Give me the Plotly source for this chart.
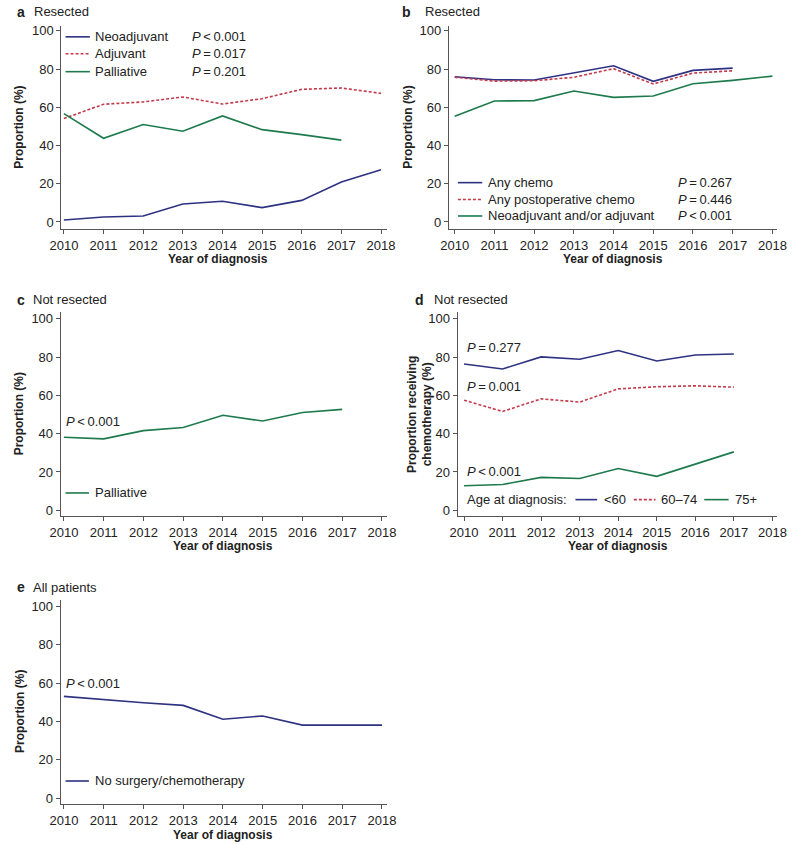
import plotly.graph_objects as go

# ---------------- data ----------------
years = [2010, 2011, 2012, 2013, 2014, 2015, 2016, 2017, 2018]
year_labels = [str(y) for y in years]
y_ticks = [0, 20, 40, 60, 80, 100]

# Panel a (resected)
a_neoadjuvant = [1.0, 2.6, 3.1, 9.4, 10.8, 7.5, 11.3, 20.9, 27.3]
a_adjuvant = [54.1, 61.6, 62.8, 65.4, 61.7, 64.5, 69.4, 70.1, 67.3]
a_palliative = [56.7, 43.8, 51.0, 47.5, 55.5, 48.3, 45.7, 42.8, None]

# Panel b (resected)
b_any_chemo = [76.0, 74.4, 74.3, 78.1, 81.7, 73.6, 79.3, 80.5, None]
b_postop = [75.7, 73.7, 73.9, 75.7, 80.2, 72.2, 77.9, 79.1, None]
b_neo_adj = [55.3, 63.3, 63.5, 68.5, 65.2, 65.9, 72.3, 74.1, 76.3]

# Panel c (not resected)
c_palliative = [38.1, 37.3, 41.6, 43.2, 49.6, 46.6, 51.1, 52.7, None]

# Panel d (not resected, by age)
d_lt60 = [76.4, 73.8, 80.1, 78.9, 83.4, 78.0, 81.1, 81.6, None]
d_60_74 = [57.5, 51.6, 58.2, 56.5, 63.4, 64.5, 65.0, 64.3, None]
d_75p = [12.8, 13.5, 17.2, 16.6, 21.8, 17.7, 24.1, 30.5, None]

# Panel e (all patients)
e_none = [53.1, 51.4, 49.8, 48.4, 41.2, 42.9, 38.1, 38.1, 38.1]

# ---------------- style ----------------
W, H = 796, 845
FONT = "Liberation Sans, Arial, Helvetica, sans-serif"
NAVY = "#2e3282"
RED = "#c43a4b"
GREEN = "#1d7a4c"
AXC = "#555555"
TXT = "#222222"
DASH = "3px,2px"


def fx(x):
    return x / W


def fy(y):
    return 1 - y / H


# panel geometry in pixels: left, right, top, bottom, px(2010), px(2018), py(0), py(100)
panels = {
    "a": (50.7, 385, 24, 228, 53.3, 379, 221, 29),
    "b": (448.7, 786, 24, 228, 454.7, 781, 221, 29),
    "c": (50, 385, 311.7, 516.7, 53.3, 380, 510.7, 318.3),
    "d": (457.7, 786, 311.7, 516.7, 464.3, 781, 510.7, 318.3),
    "e": (50, 385, 600.7, 806, 53.3, 380, 800, 607.3),
}
order = ["a", "b", "c", "d", "e"]

fig = go.Figure()
layout = dict(
    width=W, height=H, margin=dict(l=0, r=0, t=0, b=0),
    paper_bgcolor="white", plot_bgcolor="white", showlegend=False,
    font=dict(family=FONT, size=13, color=TXT),
)

for i, key in enumerate(order):
    L, R, T, B, p10, p18, p0, p100 = panels[key]
    perx = (p18 - p10) / 8
    xmin = 2010 - (p10 - L) / perx
    xmax = 2018 + (R - p18) / perx
    pery = (p0 - p100) / 100
    ymin = -(B - p0) / pery
    ymax = 100 + (p100 - T) / pery
    sfx = "" if i == 0 else str(i + 1)
    layout["xaxis" + sfx] = dict(
        domain=[fx(L), fx(R)], range=[xmin, xmax], anchor="y" + sfx,
        tickvals=years, ticktext=year_labels, showline=True, linecolor=AXC,
        linewidth=1, ticks="outside", ticklen=4, tickcolor=AXC, showgrid=False,
        zeroline=False, tickfont=dict(size=13, family=FONT, color=TXT), fixedrange=True,
    )
    layout["yaxis" + sfx] = dict(
        domain=[fy(B), fy(T)], range=[ymin, ymax], anchor="x" + sfx,
        tickvals=y_ticks, showline=True, linecolor=AXC, linewidth=1,
        ticks="outside", ticklen=4, tickcolor=AXC, showgrid=False, zeroline=False,
        tickfont=dict(size=13, family=FONT, color=TXT), fixedrange=True,
    )

fig.update_layout(**layout)


def add_line(vals, color, ax, dash=None):
    fig.add_trace(go.Scatter(
        x=years, y=vals, mode="lines", xaxis="x" + ax, yaxis="y" + ax,
        line=dict(color=color, width=1.6, dash=dash), connectgaps=False,
        hoverinfo="skip",
    ))


add_line(a_neoadjuvant, NAVY, "")
add_line(a_adjuvant, RED, "", DASH)
add_line(a_palliative, GREEN, "")

add_line(b_any_chemo, NAVY, "2")
add_line(b_postop, RED, "2", DASH)
add_line(b_neo_adj, GREEN, "2")

add_line(c_palliative, GREEN, "3")

add_line(d_lt60, NAVY, "4")
add_line(d_60_74, RED, "4", DASH)
add_line(d_75p, GREEN, "4")

add_line(e_none, NAVY, "5")

annotations = []
shapes = []


def text(x, y, s, size=13, bold=False, anchor="left", angle=0):
    if bold:
        s = "<b>" + s + "</b>"
    annotations.append(dict(
        x=fx(x), y=fy(y), xref="paper", yref="paper", text=s, showarrow=False,
        xanchor=anchor, yanchor="middle", textangle=angle,
        font=dict(size=size, family=FONT, color=TXT),
    ))


def legline(x0, x1, y, color, dash=None):
    shapes.append(dict(
        type="line", xref="paper", yref="paper", x0=fx(x0), x1=fx(x1),
        y0=fy(y), y1=fy(y), line=dict(color=color, width=1.6, dash=dash),
    ))


def pval(s):
    return "<i>P</i>\u2009" + s


# panel titles
text(3, 10, "a", size=14, bold=True)
text(20.5, 10, "Resected")
text(399, 10, "b", size=14, bold=True)
text(422.5, 10, "Resected")
text(3, 299, "c", size=14, bold=True)
text(20, 299, "Not resected")
text(412, 299, "d", size=14, bold=True)
text(431, 299, "Not resected")
text(3, 588, "e", size=14, bold=True)
text(20, 588, "All patients")

# axis titles
for x, y in [(7.5, 126), (407, 126), (7.5, 414), (7.5, 713)]:
    text(x, y, "Proportion (%)", size=12, bold=True, anchor="center", angle=-90)
text(419, 414, "Proportion receiving<br>chemotherapy (%)", size=12, bold=True,
     anchor="center", angle=-90)
for x, y in [(211.7, 258), (617.7, 258), (216.7, 547), (622.7, 547), (216.7, 836.5)]:
    text(x, y, "Year of diagnosis", size=12, bold=True, anchor="center")

# panel a legend
for yy, col, dsh, lab, p in [
    (35, NAVY, None, "Neoadjuvant", "<\u20090.001"),
    (52, RED, DASH, "Adjuvant", "=\u20090.017"),
    (70, GREEN, None, "Palliative", "=\u20090.201"),
]:
    legline(55, 80, yy, col, dsh)
    text(83.5, yy, lab)
    text(182.5, yy, pval(p))

# panel b legend
for yy, col, dsh, lab, p in [
    (181.5, NAVY, None, "Any chemo", "=\u20090.267"),
    (198.5, RED, DASH, "Any postoperative chemo", "=\u20090.446"),
    (215, GREEN, None, "Neoadjuvant and/or adjuvant", "<\u20090.001"),
]:
    legline(458, 483, yy, col, dsh)
    text(486.5, yy, lab)
    text(682, yy, pval(p))

# panel c
text(53.5, 421.5, pval("<\u20090.001"))
legline(55, 79, 493.3, GREEN)
text(83, 493.3, "Palliative")

# panel d
text(465, 347, pval("=\u20090.277"))
text(465, 386, pval("=\u20090.001"))
text(465, 471.5, pval("<\u20090.001"))
text(465, 500, "Age at diagnosis:")
legline(578.7, 601, 500, NAVY)
text(605.5, 500, "<60")
legline(638.7, 661, 500, RED, DASH)
text(665, 500, "60\u201374")
legline(711, 736, 500, GREEN)
text(740.5, 500, "75+")

# panel e
text(53.5, 685, pval("<\u20090.001"))
legline(55, 79, 782.7, NAVY)
text(83, 782.7, "No surgery/chemotherapy")

fig.update_layout(annotations=annotations, shapes=shapes)
fig.write_html(
    "out.html",
    config={"displayModeBar": False},
    post_script="document.body.style.margin='0';document.body.style.overflow='hidden';",
)
